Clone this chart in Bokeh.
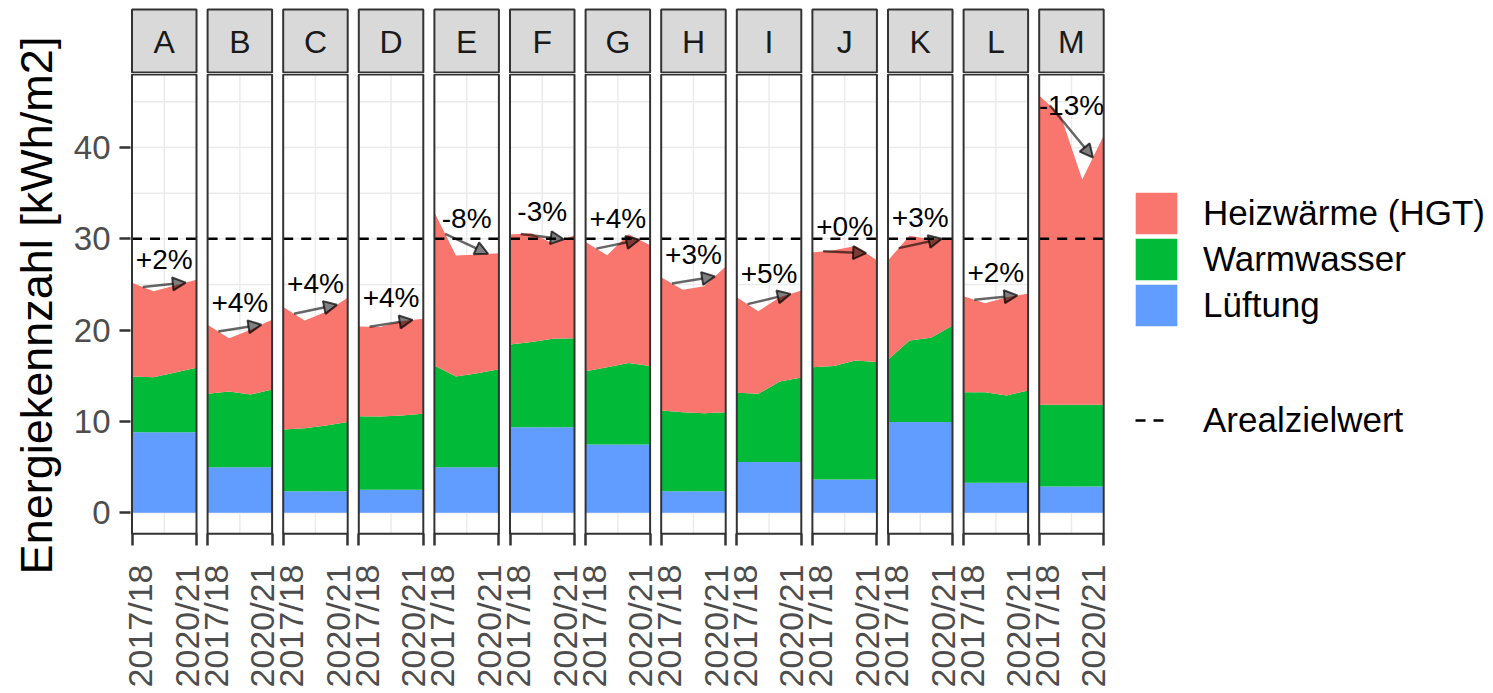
import math
from bokeh.plotting import figure
from bokeh.models import (ColumnDataSource, Range1d, FixedTicker, LinearAxis, Legend,
                          LegendItem, Arrow, NormalHead, CustomJSTickFormatter)
from bokeh.layouts import column, row
from bokeh.embed import file_html
from bokeh.resources import INLINE
from bokeh.core.properties import value

# ---------------- data ----------------
sites = ["A", "B", "C", "D", "E", "F", "G", "H", "I", "J", "K", "L", "M"]
years = ["2017/18", "2018/19", "2019/20", "2020/21"]
year_x = [0, 1, 2, 3]
x_tick_labels = ["2017/18", "2020/21"]

luftung = [
    [8.83, 8.83, 8.83, 8.83], [5.00, 5.00, 5.00, 5.00], [2.37, 2.37, 2.37, 2.37],
    [2.52, 2.52, 2.52, 2.52], [5.00, 5.00, 5.00, 5.00], [9.38, 9.38, 9.38, 9.38],
    [7.48, 7.48, 7.48, 7.48], [2.37, 2.37, 2.37, 2.37], [5.55, 5.55, 5.55, 5.55],
    [3.65, 3.65, 3.65, 3.65], [9.93, 9.93, 9.93, 9.93], [3.28, 3.28, 3.28, 3.28],
    [2.88, 2.88, 2.88, 2.88],
]
warmwasser = [
    [6.10, 6.02, 6.53, 7.05], [8.03, 8.28, 7.96, 8.50], [6.75, 6.90, 7.19, 7.56],
    [8.06, 8.03, 8.14, 8.32], [11.13, 9.93, 10.29, 10.73], [9.05, 9.31, 9.67, 9.74],
    [8.03, 8.47, 8.91, 8.58], [8.83, 8.65, 8.54, 8.65], [7.59, 7.48, 8.83, 9.27],
    [12.30, 12.41, 13.03, 12.85], [6.82, 8.94, 9.23, 10.58], [9.93, 9.93, 9.57, 10.11],
    [8.94, 8.94, 8.94, 8.94],
]
heizwaerme = [
    [10.25, 9.42, 9.54, 9.63], [7.55, 5.84, 7.09, 7.63], [13.40, 11.79, 12.44, 13.61],
    [9.82, 9.80, 10.34, 10.41], [16.79, 13.25, 12.99, 12.70], [12.04, 11.91, 10.45, 11.28],
    [14.14, 12.25, 14.11, 13.24], [14.60, 13.40, 13.89, 15.95], [10.47, 9.05, 9.22, 9.52],
    [12.55, 12.69, 12.52, 11.15], [10.88, 11.46, 10.79, 9.56], [10.49, 9.74, 10.75, 10.61],
    [33.88, 31.68, 24.68, 29.48],
]
change_labels = ["+2%", "+4%", "+4%", "+4%", "-8%", "-3%", "+4%", "+3%", "+5%",
                 "+0%", "+3%", "+2%", "-13%"]
target_value = 30
y_ticks = [0, 10, 20, 30, 40]
y_grid_minor = [5, 15, 25, 35, 45]
y_title = "Energiekennzahl [kWh/m2]"
legend_labels = ["Heizwärme (HGT)", "Warmwasser", "Lüftung"]
target_label = "Arealzielwert"

# ---------------- style / layout ----------------
FONT = "Liberation Sans"
C_HEIZ, C_WW, C_LUFT = "#F8766D", "#00BA38", "#619CFF"
GRID = "#ebebeb"
DARK = "#333333"
PAGE_H = 693

LEFT_W = 68              # axis title strip
BL = 62                  # main left border
FRAME_W = 975
BR = 6
MID_W = BL + FRAME_W + BR
RIGHT_W = 1493 - LEFT_W - MID_W

PXU = 21.5               # px per year
PITCH = 75.6 / PXU       # panel pitch (data units)
x0 = (130 - 131.5) / PXU
x_range = Range1d(x0, x0 + FRAME_W / PXU)

ymax = max(l[k] + w[k] + h[k] for l, w, h in zip(luftung, warmwasser, heizwaerme) for k in range(4))
ylo, yhi = -0.05 * ymax, 1.05 * ymax
PXY = 9.133
STRIP_H = 73
FRAME_TOP, FRAME_BOT = 73, 535
FRAME_H = FRAME_BOT - FRAME_TOP
MAIN_H = PAGE_H - STRIP_H
y_range = Range1d(-(FRAME_BOT - 512.3) / PXY, (512.3 - FRAME_TOP) / PXY)

offs = [i * PITCH for i in range(len(sites))]


def bare(fig):
    fig.grid.visible = False
    fig.outline_line_color = None
    fig.background_fill_color = "white"
    fig.border_fill_color = "white"


# ---------------- axis-title figure ----------------
t = figure(width=LEFT_W, height=PAGE_H, x_range=Range1d(0, LEFT_W), y_range=Range1d(0, PAGE_H),
           output_backend="svg", toolbar_location=None, min_border=0,
           x_axis_location=None, y_axis_location=None)
bare(t)
t.text(x=[36], y=[PAGE_H - 305], text=[y_title], angle=math.pi / 2, text_align="center",
       text_baseline="middle", text_font=value(FONT), text_font_size="45px",
       text_color="black")

# ---------------- strip figure ----------------
s = figure(width=MID_W, height=STRIP_H, x_range=x_range, y_range=Range1d(0, STRIP_H),
           output_backend="svg", toolbar_location=None,
           min_border_left=BL, min_border_right=BR, min_border_top=0, min_border_bottom=0,
           x_axis_location=None, y_axis_location=None)
bare(s)
s.quad(left=offs, right=[o + 3 for o in offs], bottom=1, top=64,
       fill_color="#d9d9d9", line_color=DARK, line_width=2)
s.text(x=[o + 1.5 for o in offs], y=32, text=sites, text_align="center",
       text_baseline="middle", text_font=value(FONT), text_font_size="32px",
       text_color="#1a1a1a")

# ---------------- main figure ----------------
p = figure(width=MID_W, height=MAIN_H, x_range=x_range, y_range=y_range,
           output_backend="svg", toolbar_location=None,
           min_border_left=BL, min_border_right=BR, min_border_top=0,
           min_border_bottom=MAIN_H - FRAME_H, x_axis_location=None)
bare(p)

# grid lines per panel
hx0, hx1, hy = [], [], []
for o in offs:
    for yv in y_ticks + y_grid_minor:
        hx0.append(o); hx1.append(o + 3); hy.append(yv)
p.segment(x0=hx0, x1=hx1, y0=hy, y1=hy, line_color=GRID, line_width=1.5)
p.segment(x0=[o + 1.5 for o in offs], x1=[o + 1.5 for o in offs], y0=ylo, y1=yhi,
          line_color=GRID, line_width=1.5)

for i, o in enumerate(offs):
    src = ColumnDataSource(dict(x=[o + xx for xx in year_x], luft=luftung[i],
                                ww=warmwasser[i], heiz=heizwaerme[i]))
    p.varea_stack(["luft", "ww", "heiz"], x="x", source=src,
                  color=[C_LUFT, C_WW, C_HEIZ])

# target line
p.segment(x0=offs, x1=[o + 3 for o in offs], y0=target_value, y1=target_value,
          line_color="black", line_width=2.5, line_dash="10 8")

# arrows + labels
xs, ys, xe, ye, lx, ly = [], [], [], [], [], []
for i, o in enumerate(offs):
    tot = [luftung[i][k] + warmwasser[i][k] + heizwaerme[i][k] for k in range(4)]
    a = (tot[0] + tot[1]) / 2
    b = (tot[2] + tot[3]) / 2
    xs.append(o + 0.5); ys.append(a); xe.append(o + 2.5); ye.append(b)
    lx.append(o + 1.5); ly.append((a + b) / 2 + 2.8)
asrc = ColumnDataSource(dict(xs=xs, ys=ys, xe=xe, ye=ye))
p.add_layout(Arrow(end=NormalHead(size=13, fill_color="black", fill_alpha=0.5,
                                  line_color="black", line_alpha=0.7, line_width=2),
                   x_start="xs", y_start="ys", x_end="xe", y_end="ye", source=asrc,
                   line_color="black", line_alpha=0.6, line_width=2.5))
p.text(x=lx, y=ly, text=change_labels, text_align="center", text_baseline="middle",
       text_font=value(FONT), text_font_size="28px", text_color="black")

# panel borders
p.quad(left=offs, right=[o + 3 for o in offs], bottom=ylo, top=yhi,
       fill_color=None, line_color=DARK, line_width=2)

# y axis
ya = p.yaxis[0]
ya.ticker = FixedTicker(ticks=y_ticks)
ya.major_label_text_font = FONT
ya.major_label_text_font_size = "33px"
ya.major_label_text_color = "#4d4d4d"
ya.major_label_standoff = 9
ya.axis_line_color = None
ya.major_tick_out = 11
ya.major_tick_in = 0
ya.major_tick_line_width = 2.5
ya.major_tick_line_color = DARK
ya.minor_tick_line_color = None

# x axes: tick marks, then shifted labels
tick_pos, lab_pos = [], []
for o in offs:
    tick_pos += [o, o + 3]
    lab_pos += [o + 0.37, o + 3 - 0.46]
ax_t = LinearAxis(ticker=FixedTicker(ticks=tick_pos),
                  formatter=CustomJSTickFormatter(code="return '';"),
                  major_tick_out=10, major_tick_in=2, major_tick_line_width=2.5,
                  major_tick_line_color=DARK, minor_tick_line_color=None,
                  axis_line_color=None, major_label_standoff=0,
                  major_label_text_font_size="1px")
ax_l = LinearAxis(ticker=FixedTicker(ticks=lab_pos),
                  formatter=CustomJSTickFormatter(args=dict(labs=x_tick_labels),
                                                  code="return labs[index % 2];"),
                  major_tick_out=0, major_tick_in=0, major_tick_line_color=None,
                  minor_tick_line_color=None, axis_line_color=None,
                  major_label_orientation=math.pi / 2, major_label_standoff=19,
                  major_label_text_font=FONT, major_label_text_font_size="34px",
                  major_label_text_color="#4d4d4d")
p.add_layout(ax_t, "below")
p.add_layout(ax_l, "below")

# ---------------- legend figure ----------------
g = figure(width=RIGHT_W, height=PAGE_H, x_range=Range1d(0, 1), y_range=Range1d(0, 1),
           output_backend="svg", toolbar_location=None, min_border=0,
           x_axis_location=None, y_axis_location=None)
bare(g)
key_src = ColumnDataSource(dict(x=[-5.0, -4.0], y1=[-5.0, -5.0], y2=[-4.0, -4.0]))
r_heiz = g.varea(x="x", y1="y1", y2="y2", source=key_src, fill_color=C_HEIZ)
r_ww = g.varea(x="x", y1="y1", y2="y2", source=key_src, fill_color=C_WW)
r_luft = g.varea(x="x", y1="y1", y2="y2", source=key_src, fill_color=C_LUFT)
r_dash = g.line(x="x", y="y1", source=key_src, line_color="black", line_width=2.5,
                line_dash="10 8 10 100")

common = dict(padding=0, margin=0, label_text_font=FONT, label_text_font_size="35px",
              label_text_color="black", border_line_color=None, background_fill_alpha=0)
GX = 1135 - LEFT_W - MID_W
for k, (lab, rr) in enumerate(zip(legend_labels, [r_heiz, r_ww, r_luft])):
    box_bottom = 191.7 + 46.2 * k - 5.2 + 52
    g.add_layout(Legend(items=[LegendItem(label=value(lab), renderers=[rr])],
                        location=(GX - 5, PAGE_H - box_bottom), glyph_width=52,
                        glyph_height=52, label_standoff=21, **common))
g.add_layout(Legend(items=[LegendItem(label=value(target_label), renderers=[r_dash])],
                    location=(GX, PAGE_H - 441), glyph_width=42, glyph_height=42,
                    label_standoff=26, **common))

layout = row(t, column(s, p, spacing=0), g, spacing=0)
open("out.html", "w").write(file_html(layout, INLINE))
